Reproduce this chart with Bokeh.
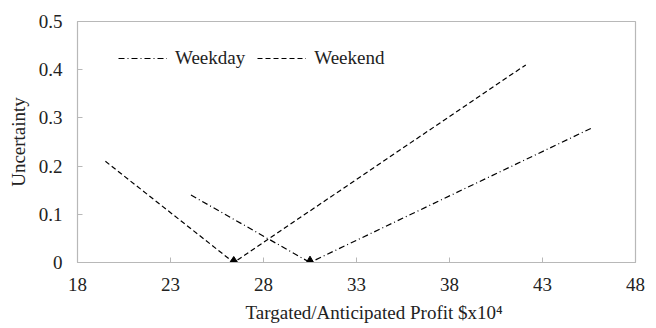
from bokeh.plotting import figure
from bokeh.models import FixedTicker, Range1d, Legend, LegendItem, Title
from bokeh.embed import file_html
from bokeh.resources import INLINE

# Data
weekday_x = [24.1, 30.5, 45.7]
weekday_y = [0.14, 0.0, 0.28]
weekend_x = [19.5, 26.4, 42.1]
weekend_y = [0.21, 0.0, 0.41]
weekday_min = ([30.5], [0.0])
weekend_min = ([26.4], [0.0])
x_ticks = [18, 23, 28, 33, 38, 43, 48]
y_ticks = [0, 0.1, 0.2, 0.3, 0.4, 0.5]
y_tick_labels = {0: "0", 0.1: "0.1", 0.2: "0.2", 0.3: "0.3", 0.4: "0.4", 0.5: "0.5"}
x_title = "Targated/Anticipated Profit $x10\u2074"
y_title = "Uncertainty"

FONT = "Liberation Serif"
GRAY = "#b8b8b8"
FS = "19px"

p = figure(width=656, height=328, output_backend="svg", toolbar_location=None,
           x_range=Range1d(18, 48), y_range=Range1d(0, 0.5),
           min_border_left=77, min_border_right=21, min_border_top=21, min_border_bottom=66)
p.grid.visible = False
p.outline_line_color = GRAY
p.outline_line_width = 1.2
p.background_fill_color = "white"
p.border_fill_color = "white"

for ax in (p.xaxis[0], p.yaxis[0]):
    ax.axis_line_color = GRAY
    ax.major_tick_line_color = GRAY
    ax.major_tick_in = 5
    ax.major_tick_out = 0
    ax.minor_tick_line_color = None
    ax.major_label_text_font = FONT
    ax.major_label_text_font_size = FS
    ax.major_label_text_color = "#222222"
    ax.axis_label_text_font = FONT
    ax.axis_label_text_font_size = FS
    ax.axis_label_text_font_style = "normal"
    ax.axis_label_text_color = "#222222"

p.xaxis.ticker = FixedTicker(ticks=x_ticks)
p.yaxis.ticker = FixedTicker(ticks=y_ticks)
p.yaxis.major_label_overrides = y_tick_labels
p.xaxis.major_label_standoff = 15
p.yaxis.major_label_standoff = 15
p.yaxis.axis_label = y_title
p.yaxis.axis_label_standoff = 7

# x-axis title sits right of the frame centre in the reference
p.add_layout(Title(text=x_title, align="left", offset=168, standoff=12,
                   text_font=FONT, text_font_size=FS, text_font_style="normal",
                   text_color="#222222"), "below")

r_wd = p.line(weekday_x, weekday_y, line_color="black", line_width=1.2, line_dash="6 3 1 3")
r_we = p.line(weekend_x, weekend_y, line_color="black", line_width=1.2, line_dash="5 3")
p.scatter(weekend_min[0], weekend_min[1], marker="diamond", size=12, color="black")
p.scatter(weekday_min[0], weekday_min[1], marker="triangle", size=11, color="black")

legend = Legend(items=[LegendItem(label="Weekday", renderers=[r_wd]),
                       LegendItem(label="Weekend", renderers=[r_we])],
                orientation="horizontal", location=(41, 193),
                border_line_color=None, background_fill_alpha=0,
                label_text_font=FONT, label_text_font_size=FS, label_text_color="#222222",
                glyph_width=49, label_standoff=8, spacing=12, padding=0, margin=0)
p.add_layout(legend, "center")

open("out.html", "w").write(file_html(p, INLINE))
